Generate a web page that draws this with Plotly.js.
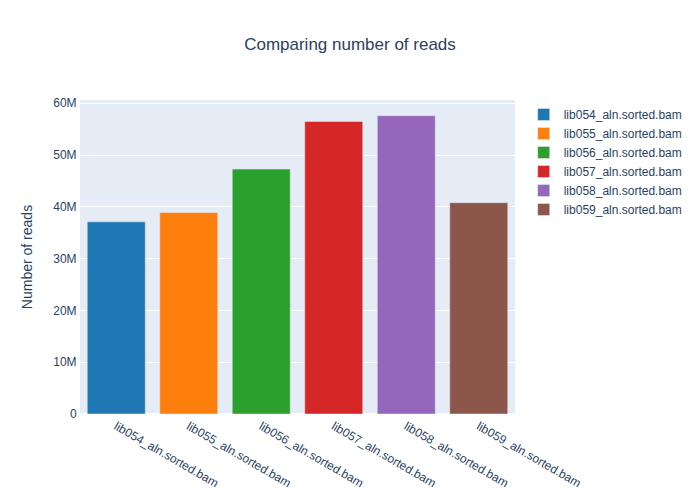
<!DOCTYPE html>
<html>
<head>
<meta charset="utf-8">
<script src="https://cdn.plot.ly/plotly-3.0.1.min.js"></script>
<style>body{margin:0;} #chart{width:700px;height:500px;}</style>
</head>
<body>
<div id="chart"></div>
<script>
const samples = ["lib054_aln.sorted.bam","lib055_aln.sorted.bam","lib056_aln.sorted.bam","lib057_aln.sorted.bam","lib058_aln.sorted.bam","lib059_aln.sorted.bam"];
const reads = [37100000, 38900000, 47300000, 56500000, 57600000, 40800000];
const colors = ["#1f77b4","#ff7f0e","#2ca02c","#d62728","#9467bd","#8c564b"];

const traces = samples.map((s, i) => ({
  type: "bar",
  name: s,
  x: [s],
  y: [reads[i]],
  marker: {color: colors[i], line: {color: "#E5ECF6", width: 0.5}}
}));

const layout = {
  width: 700, height: 500,
  title: {text: "Comparing number of reads", x: 0.5, font: {size: 17, color: "#2a3f5f"}},
  font: {family: "Arial, Liberation Sans, sans-serif", color: "#2a3f5f", size: 12},
  paper_bgcolor: "white",
  plot_bgcolor: "#E5ECF6",
  barmode: "relative",
  xaxis: {showgrid: false, linecolor: "white", ticks: "", tickangle: 30},
  yaxis: {title: {text: "Number of reads", font: {size: 14}, standoff: 17}, gridcolor: "white", zerolinecolor: "white", zerolinewidth: 2, linecolor: "white", ticks: ""},
  legend: {font: {color: "#2a3f5f"}},
  margin: {l: 80, r: 80, t: 100, b: 86}
};

Plotly.newPlot("chart", traces, layout, {displayModeBar: false});
</script>
</body>
</html>
